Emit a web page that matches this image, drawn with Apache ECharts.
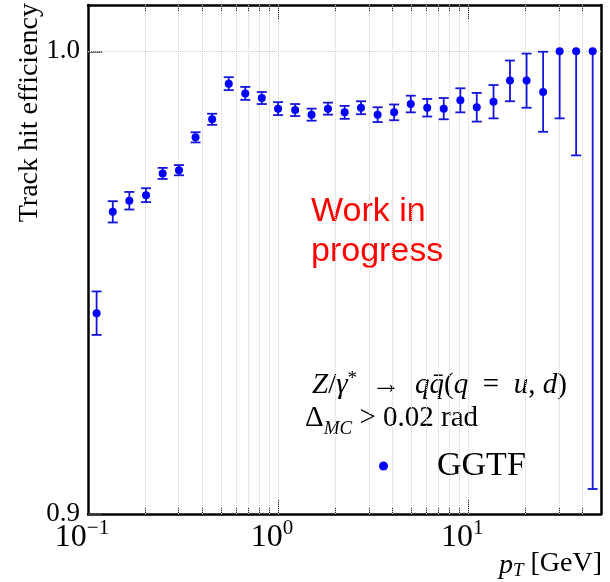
<!DOCTYPE html>
<html>
<head>
<meta charset="utf-8">
<script src="https://cdn.jsdelivr.net/npm/echarts@6/dist/echarts.min.js"></script>
<style>
  html, body { margin: 0; padding: 0; background: #fff; }
  #chart { width: 610px; height: 582px; }
</style>
</head>
<body>
<div id="chart"></div>
<script>
// pT bin centres (GeV), log spaced
var ptBins = [0.111, 0.135, 0.165, 0.202, 0.247, 0.301, 0.368, 0.450, 0.550, 0.672,
              0.821, 1.00, 1.23, 1.50, 1.83, 2.24, 2.73, 3.34, 4.08, 4.99,
              6.09, 7.44, 9.10, 11.1, 13.6, 16.6, 20.3, 24.8, 30.3, 37.0, 45.2];
var efficiency = [0.9434, 0.9653, 0.9677, 0.9689, 0.9736, 0.9743, 0.9814, 0.9853, 0.9930, 0.9909,
                  0.9899, 0.9876, 0.9873, 0.9863, 0.9876, 0.9868, 0.9878, 0.9863, 0.9868, 0.9886,
                  0.9878, 0.9876, 0.9894, 0.9879, 0.9891, 0.9937, 0.9937, 0.9912, 1.0, 1.0, 1.0];
var errLow = [0.0047, 0.0023, 0.0019, 0.0015, 0.0012, 0.0011, 0.0011, 0.0012, 0.0014, 0.0014,
              0.0013, 0.0014, 0.0013, 0.0013, 0.0013, 0.0014, 0.0014, 0.0016, 0.0017, 0.0018,
              0.0019, 0.0023, 0.0026, 0.0031, 0.0036, 0.0045, 0.0059, 0.0086, 0.0145, 0.0225, 0.0946];
var errHigh = [0.0047, 0.0023, 0.0019, 0.0015, 0.0012, 0.0011, 0.0011, 0.0012, 0.0014, 0.0014,
               0.0013, 0.0014, 0.0013, 0.0013, 0.0013, 0.0014, 0.0014, 0.0016, 0.0017, 0.0018,
               0.0019, 0.0023, 0.0026, 0.0031, 0.0036, 0.0043, 0.0058, 0.0087, 0, 0, 0];

var majorTicksX = [0.1, 1, 10];
var minorTicksX = [0.2, 0.3, 0.4, 0.5, 0.6, 0.7, 0.8, 0.9, 2, 3, 4, 5, 6, 7, 8, 9, 20, 30, 40];
var gridX = [0.2, 0.3, 0.4, 0.5, 0.6, 0.7, 0.8, 0.9, 1, 2, 3, 4, 5, 6, 7, 8, 9, 10, 20, 30, 40];
var yTicks = [0.9, 1.0];

var SERIF = "'Liberation Serif', 'DejaVu Serif', serif";
var BLUE = '#0000ff';
var BAR_BLUE = '#1414dc';

var chart = echarts.init(document.getElementById('chart'));

var pointData = ptBins.map(function (x, i) { return [x, efficiency[i]]; });
var errData = ptBins.map(function (x, i) { return [x, efficiency[i], errLow[i], errHigh[i]]; });

var supLabel = function (v) {
  var e = Math.round(Math.log10(v));
  return '{b|10}{s|' + (e < 0 ? '\u2212' + (-e) : e) + '}';
};
var labelRich = {
  b: { fontFamily: SERIF, fontSize: 32, color: '#000', verticalAlign: 'bottom', lineHeight: 36 },
  s: { fontFamily: SERIF, fontSize: 21, color: '#000', verticalAlign: 'top', lineHeight: 36 }
};

function xAx(pos, ticks, len, withLabels, withLine) {
  return {
    type: 'log', logBase: 10, min: 0.1, max: 50, position: pos,
    axisLine: { show: withLine, lineStyle: { color: '#000', width: 2.5 } },
    axisTick: { show: true, inside: true, length: len, customValues: ticks,
                lineStyle: { color: '#222', width: 1 } },
    axisLabel: withLabels ? {
      show: true, customValues: majorTicksX, margin: 4, padding: [0, 12, 0, 0],
      formatter: supLabel, rich: labelRich
    } : { show: false },
    splitLine: { show: false }
  };
}

var option = {
  animation: false,
  backgroundColor: '#fff',
  grid: { left: 88, right: 9, top: 5, bottom: 68 },
  xAxis: [
    xAx('bottom', [1, 10], 14, true, true),
    xAx('bottom', minorTicksX, 7, false, false),
    xAx('top', [1, 10], 14, false, true),
    xAx('top', minorTicksX, 7, false, false)
  ],
  yAxis: [{
    type: 'value', min: 0.9, max: 1.01, position: 'left',
    axisLine: { show: true, lineStyle: { color: '#000', width: 2.5 } },
    axisTick: { show: true, inside: true, length: 14, customValues: yTicks,
                lineStyle: { color: '#444', width: 1.5 } },
    axisLabel: { show: true, customValues: yTicks, margin: 8,
                 fontFamily: SERIF, fontSize: 27, color: '#000',
                 formatter: function (v) { return v.toFixed(1); } },
    splitLine: { show: false }
  }, {
    type: 'value', min: 0.9, max: 1.01, position: 'right',
    axisLine: { show: true, lineStyle: { color: '#000', width: 2.5 } },
    axisTick: { show: false }, axisLabel: { show: false }, splitLine: { show: false }
  }],
  legend: {
    data: ['GGTF'], left: 374, top: 444, icon: 'circle', itemWidth: 9, itemHeight: 9,
    textStyle: { fontFamily: SERIF, fontSize: 34, color: '#000', padding: [0, 0, 0, 44] }
  },
  series: [{
    type: 'line', data: [], silent: true, z: 1,
    markLine: {
      silent: true, symbol: 'none', animation: false, z: 1,
      label: { show: false },
      lineStyle: { color: '#cfcfcf', type: 'dotted', width: 1 },
      data: gridX.map(function (v) { return { xAxis: v }; }).concat([{ yAxis: 1.0 }])
    }
  }, {
    type: 'custom', name: 'err', z: 6,
    data: errData,
    encode: { x: 0, y: 1 },
    renderItem: function (params, api) {
      var x = api.value(0), y = api.value(1), lo = api.value(2), hi = api.value(3);
      var pLo = api.coord([x, y - lo]);
      var pHi = api.coord([x, y + hi]);
      var cap = 5;
      var st = { stroke: BAR_BLUE, lineWidth: 1.8 };
      var kids = [
        { type: 'line', shape: { x1: pLo[0], y1: pLo[1], x2: pHi[0], y2: pHi[1] }, style: st },
        { type: 'line', shape: { x1: pLo[0] - cap, y1: pLo[1], x2: pLo[0] + cap, y2: pLo[1] }, style: st }
      ];
      if (hi > 0) {
        kids.push({ type: 'line', shape: { x1: pHi[0] - cap, y1: pHi[1], x2: pHi[0] + cap, y2: pHi[1] }, style: st });
      }
      return { type: 'group', children: kids };
    }
  }, {
    type: 'scatter', name: 'GGTF', z: 10,
    data: pointData, symbol: 'circle', symbolSize: 8,
    itemStyle: { color: BLUE, opacity: 1 }
  }],
  graphic: [{
    type: 'text', x: 30, y: 3, rotation: Math.PI / 2,
    style: { text: 'Track hit efficiency', fontFamily: SERIF, fontSize: 28, fill: '#000',
             align: 'right', verticalAlign: 'middle' }
  }, {
    type: 'text', right: 8, top: 550,
    style: {
      text: '{i|p}{sub|T} [GeV]', fill: '#000',
      rich: {
        i: { fontFamily: SERIF, fontStyle: 'italic', fontSize: 28, verticalAlign: 'bottom', lineHeight: 32 },
        sub: { fontFamily: SERIF, fontStyle: 'italic', fontSize: 19, verticalAlign: 'bottom', lineHeight: 26 }
      },
      fontFamily: SERIF, fontSize: 28
    }
  }, {
    type: 'text', left: 311, top: 192,
    style: { text: 'Work in\nprogress', fontFamily: "'Liberation Sans', Arial, sans-serif",
             fontSize: 34, lineHeight: 40, fill: '#ff0000' }
  }, {
    type: 'text', left: 312, top: 370,
    style: {
      text: '{i|Z}/{i|\u03b3}{sup|*}  \u2192  {i|q\u0071\u0304}({i|q}  =  {i|u}, {i|d})',
      fontFamily: SERIF, fontSize: 29, fill: '#000', lineHeight: 30,
      rich: {
        i: { fontFamily: SERIF, fontStyle: 'italic', fontSize: 29 },
        sup: { fontFamily: SERIF, fontSize: 19, verticalAlign: 'top' }
      }
    }
  }, {
    type: 'text', left: 305, top: 398,
    style: {
      text: '\u0394{sb|MC} > 0.02 rad',
      fontFamily: SERIF, fontSize: 29, fill: '#000', lineHeight: 30,
      rich: {
        sb: { fontFamily: SERIF, fontStyle: 'italic', fontSize: 19, verticalAlign: 'bottom', lineHeight: 40 }
      }
    }
  }]
};

chart.setOption(option);
</script>
</body>
</html>
